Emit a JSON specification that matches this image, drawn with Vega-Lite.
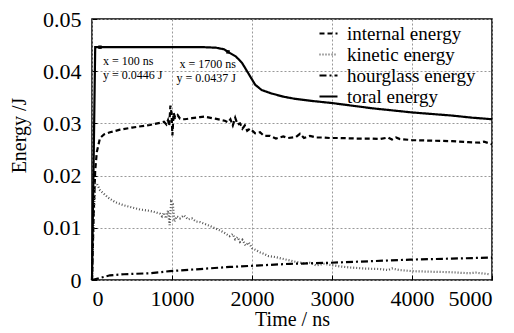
{
  "$schema": "https://vega.github.io/schema/vega-lite/v6.json",
  "width": 400,
  "height": 261,
  "autosize": {"type": "none"},
  "padding": {"left": 92, "top": 19, "right": 22, "bottom": 53},
  "background": "white",
  "config": {
    "font": "Liberation Serif",
    "view": {"stroke": "black", "strokeWidth": 1.5},
    "text": {"font": "Liberation Serif"},
    "axis": {
      "labelFont": "Liberation Serif",
      "titleFont": "Liberation Serif",
      "labelColor": "black",
      "titleColor": "black",
      "titleFontWeight": "normal",
      "domain": false,
      "tickColor": "black",
      "grid": true,
      "gridColor": "#999999",
      "gridDash": [2, 2],
      "gridWidth": 1,
      "labelFontSize": 22,
      "titleFontSize": 20
    },
    "legend": {
      "labelFont": "Liberation Serif",
      "labelFontSize": 19,
      "labelColor": "black"
    }
  },
  "datasets": {
    "energy": [
      {"t": 0, "e": 0, "s": "internal energy"},
      {"t": 20, "e": 0.012, "s": "internal energy"},
      {"t": 40, "e": 0.021, "s": "internal energy"},
      {"t": 60, "e": 0.0245, "s": "internal energy"},
      {"t": 100, "e": 0.0272, "s": "internal energy"},
      {"t": 150, "e": 0.0279, "s": "internal energy"},
      {"t": 225, "e": 0.0283, "s": "internal energy"},
      {"t": 350, "e": 0.0288, "s": "internal energy"},
      {"t": 500, "e": 0.0292, "s": "internal energy"},
      {"t": 725, "e": 0.0297, "s": "internal energy"},
      {"t": 850, "e": 0.0301, "s": "internal energy"},
      {"t": 900, "e": 0.0303, "s": "internal energy"},
      {"t": 930, "e": 0.0298, "s": "internal energy"},
      {"t": 950, "e": 0.0306, "s": "internal energy"},
      {"t": 965, "e": 0.0295, "s": "internal energy"},
      {"t": 980, "e": 0.0334, "s": "internal energy"},
      {"t": 995, "e": 0.0318, "s": "internal energy"},
      {"t": 1005, "e": 0.0277, "s": "internal energy"},
      {"t": 1020, "e": 0.032, "s": "internal energy"},
      {"t": 1040, "e": 0.0311, "s": "internal energy"},
      {"t": 1070, "e": 0.0316, "s": "internal energy"},
      {"t": 1100, "e": 0.0309, "s": "internal energy"},
      {"t": 1160, "e": 0.0308, "s": "internal energy"},
      {"t": 1250, "e": 0.031, "s": "internal energy"},
      {"t": 1350, "e": 0.0312, "s": "internal energy"},
      {"t": 1410, "e": 0.0313, "s": "internal energy"},
      {"t": 1500, "e": 0.031, "s": "internal energy"},
      {"t": 1540, "e": 0.0309, "s": "internal energy"},
      {"t": 1600, "e": 0.0307, "s": "internal energy"},
      {"t": 1660, "e": 0.0305, "s": "internal energy"},
      {"t": 1700, "e": 0.0302, "s": "internal energy"},
      {"t": 1730, "e": 0.0308, "s": "internal energy"},
      {"t": 1760, "e": 0.0296, "s": "internal energy"},
      {"t": 1790, "e": 0.0311, "s": "internal energy"},
      {"t": 1820, "e": 0.0298, "s": "internal energy"},
      {"t": 1850, "e": 0.03, "s": "internal energy"},
      {"t": 1880, "e": 0.029, "s": "internal energy"},
      {"t": 1910, "e": 0.0296, "s": "internal energy"},
      {"t": 1940, "e": 0.0286, "s": "internal energy"},
      {"t": 1975, "e": 0.029, "s": "internal energy"},
      {"t": 2040, "e": 0.0281, "s": "internal energy"},
      {"t": 2100, "e": 0.0283, "s": "internal energy"},
      {"t": 2150, "e": 0.0276, "s": "internal energy"},
      {"t": 2225, "e": 0.0276, "s": "internal energy"},
      {"t": 2300, "e": 0.0271, "s": "internal energy"},
      {"t": 2390, "e": 0.0275, "s": "internal energy"},
      {"t": 2450, "e": 0.0272, "s": "internal energy"},
      {"t": 2550, "e": 0.0274, "s": "internal energy"},
      {"t": 2600, "e": 0.028, "s": "internal energy"},
      {"t": 2650, "e": 0.0272, "s": "internal energy"},
      {"t": 2725, "e": 0.0276, "s": "internal energy"},
      {"t": 2800, "e": 0.0273, "s": "internal energy"},
      {"t": 2900, "e": 0.0273, "s": "internal energy"},
      {"t": 2975, "e": 0.0272, "s": "internal energy"},
      {"t": 3100, "e": 0.0272, "s": "internal energy"},
      {"t": 3300, "e": 0.0271, "s": "internal energy"},
      {"t": 3475, "e": 0.0271, "s": "internal energy"},
      {"t": 3600, "e": 0.027, "s": "internal energy"},
      {"t": 3700, "e": 0.0273, "s": "internal energy"},
      {"t": 3750, "e": 0.0269, "s": "internal energy"},
      {"t": 3800, "e": 0.0273, "s": "internal energy"},
      {"t": 3850, "e": 0.027, "s": "internal energy"},
      {"t": 4000, "e": 0.0268, "s": "internal energy"},
      {"t": 4225, "e": 0.0267, "s": "internal energy"},
      {"t": 4500, "e": 0.0266, "s": "internal energy"},
      {"t": 4700, "e": 0.0264, "s": "internal energy"},
      {"t": 4850, "e": 0.0263, "s": "internal energy"},
      {"t": 4900, "e": 0.0265, "s": "internal energy"},
      {"t": 5000, "e": 0.026, "s": "internal energy"},

      {"t": 0, "e": 0, "s": "kinetic energy"},
      {"t": 20, "e": 0.012, "s": "kinetic energy"},
      {"t": 40, "e": 0.0185, "s": "kinetic energy"},
      {"t": 60, "e": 0.0185, "s": "kinetic energy"},
      {"t": 100, "e": 0.0172, "s": "kinetic energy"},
      {"t": 200, "e": 0.0158, "s": "kinetic energy"},
      {"t": 290, "e": 0.0149, "s": "kinetic energy"},
      {"t": 400, "e": 0.0143, "s": "kinetic energy"},
      {"t": 500, "e": 0.0139, "s": "kinetic energy"},
      {"t": 600, "e": 0.0135, "s": "kinetic energy"},
      {"t": 700, "e": 0.0133, "s": "kinetic energy"},
      {"t": 790, "e": 0.013, "s": "kinetic energy"},
      {"t": 850, "e": 0.0127, "s": "kinetic energy"},
      {"t": 875, "e": 0.0122, "s": "kinetic energy"},
      {"t": 900, "e": 0.0129, "s": "kinetic energy"},
      {"t": 925, "e": 0.0118, "s": "kinetic energy"},
      {"t": 950, "e": 0.0133, "s": "kinetic energy"},
      {"t": 970, "e": 0.0105, "s": "kinetic energy"},
      {"t": 990, "e": 0.015, "s": "kinetic energy"},
      {"t": 1010, "e": 0.0146, "s": "kinetic energy"},
      {"t": 1030, "e": 0.0112, "s": "kinetic energy"},
      {"t": 1060, "e": 0.0122, "s": "kinetic energy"},
      {"t": 1100, "e": 0.0118, "s": "kinetic energy"},
      {"t": 1150, "e": 0.0124, "s": "kinetic energy"},
      {"t": 1200, "e": 0.0116, "s": "kinetic energy"},
      {"t": 1250, "e": 0.0118, "s": "kinetic energy"},
      {"t": 1300, "e": 0.0112, "s": "kinetic energy"},
      {"t": 1350, "e": 0.0111, "s": "kinetic energy"},
      {"t": 1400, "e": 0.0108, "s": "kinetic energy"},
      {"t": 1450, "e": 0.0105, "s": "kinetic energy"},
      {"t": 1540, "e": 0.0099, "s": "kinetic energy"},
      {"t": 1600, "e": 0.0095, "s": "kinetic energy"},
      {"t": 1660, "e": 0.009, "s": "kinetic energy"},
      {"t": 1720, "e": 0.0084, "s": "kinetic energy"},
      {"t": 1760, "e": 0.0088, "s": "kinetic energy"},
      {"t": 1790, "e": 0.0078, "s": "kinetic energy"},
      {"t": 1820, "e": 0.0082, "s": "kinetic energy"},
      {"t": 1850, "e": 0.0073, "s": "kinetic energy"},
      {"t": 1880, "e": 0.0077, "s": "kinetic energy"},
      {"t": 1920, "e": 0.0066, "s": "kinetic energy"},
      {"t": 1960, "e": 0.0072, "s": "kinetic energy"},
      {"t": 2000, "e": 0.0061, "s": "kinetic energy"},
      {"t": 2040, "e": 0.0058, "s": "kinetic energy"},
      {"t": 2100, "e": 0.0053, "s": "kinetic energy"},
      {"t": 2150, "e": 0.005, "s": "kinetic energy"},
      {"t": 2200, "e": 0.0046, "s": "kinetic energy"},
      {"t": 2290, "e": 0.0044, "s": "kinetic energy"},
      {"t": 2400, "e": 0.004, "s": "kinetic energy"},
      {"t": 2540, "e": 0.0035, "s": "kinetic energy"},
      {"t": 2650, "e": 0.0032, "s": "kinetic energy"},
      {"t": 2725, "e": 0.0033, "s": "kinetic energy"},
      {"t": 2800, "e": 0.0028, "s": "kinetic energy"},
      {"t": 2900, "e": 0.0031, "s": "kinetic energy"},
      {"t": 2975, "e": 0.0029, "s": "kinetic energy"},
      {"t": 3100, "e": 0.0026, "s": "kinetic energy"},
      {"t": 3225, "e": 0.0024, "s": "kinetic energy"},
      {"t": 3400, "e": 0.0022, "s": "kinetic energy"},
      {"t": 3600, "e": 0.0021, "s": "kinetic energy"},
      {"t": 3700, "e": 0.0019, "s": "kinetic energy"},
      {"t": 3750, "e": 0.0022, "s": "kinetic energy"},
      {"t": 3850, "e": 0.0019, "s": "kinetic energy"},
      {"t": 4000, "e": 0.0017, "s": "kinetic energy"},
      {"t": 4200, "e": 0.0016, "s": "kinetic energy"},
      {"t": 4475, "e": 0.0015, "s": "kinetic energy"},
      {"t": 4700, "e": 0.0013, "s": "kinetic energy"},
      {"t": 4800, "e": 0.0014, "s": "kinetic energy"},
      {"t": 4975, "e": 0.0011, "s": "kinetic energy"},

      {"t": 0, "e": 0, "s": "hourglass energy"},
      {"t": 100, "e": 0.0004, "s": "hourglass energy"},
      {"t": 225, "e": 0.0009, "s": "hourglass energy"},
      {"t": 400, "e": 0.0011, "s": "hourglass energy"},
      {"t": 725, "e": 0.0013, "s": "hourglass energy"},
      {"t": 975, "e": 0.0017, "s": "hourglass energy"},
      {"t": 1350, "e": 0.0021, "s": "hourglass energy"},
      {"t": 1725, "e": 0.0025, "s": "hourglass energy"},
      {"t": 2100, "e": 0.0028, "s": "hourglass energy"},
      {"t": 2475, "e": 0.0031, "s": "hourglass energy"},
      {"t": 2975, "e": 0.0033, "s": "hourglass energy"},
      {"t": 3475, "e": 0.0036, "s": "hourglass energy"},
      {"t": 3975, "e": 0.0039, "s": "hourglass energy"},
      {"t": 4500, "e": 0.0041, "s": "hourglass energy"},
      {"t": 5000, "e": 0.0043, "s": "hourglass energy"},

      {"t": 0, "e": 0, "s": "toral energy"},
      {"t": 40, "e": 0.0446, "s": "toral energy"},
      {"t": 100, "e": 0.0446, "s": "toral energy"},
      {"t": 500, "e": 0.0446, "s": "toral energy"},
      {"t": 1000, "e": 0.0446, "s": "toral energy"},
      {"t": 1400, "e": 0.0446, "s": "toral energy"},
      {"t": 1550, "e": 0.0445, "s": "toral energy"},
      {"t": 1650, "e": 0.0442, "s": "toral energy"},
      {"t": 1700, "e": 0.0437, "s": "toral energy"},
      {"t": 1800, "e": 0.0428, "s": "toral energy"},
      {"t": 1875, "e": 0.0416, "s": "toral energy"},
      {"t": 1950, "e": 0.0397, "s": "toral energy"},
      {"t": 2040, "e": 0.0374, "s": "toral energy"},
      {"t": 2120, "e": 0.0364, "s": "toral energy"},
      {"t": 2250, "e": 0.0357, "s": "toral energy"},
      {"t": 2400, "e": 0.0351, "s": "toral energy"},
      {"t": 2540, "e": 0.0347, "s": "toral energy"},
      {"t": 2750, "e": 0.0343, "s": "toral energy"},
      {"t": 3000, "e": 0.0339, "s": "toral energy"},
      {"t": 3250, "e": 0.0334, "s": "toral energy"},
      {"t": 3500, "e": 0.0329, "s": "toral energy"},
      {"t": 3750, "e": 0.0325, "s": "toral energy"},
      {"t": 4000, "e": 0.0321, "s": "toral energy"},
      {"t": 4250, "e": 0.0318, "s": "toral energy"},
      {"t": 4500, "e": 0.0315, "s": "toral energy"},
      {"t": 4750, "e": 0.0311, "s": "toral energy"},
      {"t": 5000, "e": 0.0308, "s": "toral energy"}
    ],
    "notes": [
      {"t": 100, "e": 0.0446, "label": ["x = 100 ns", "y = 0.0446 J"], "side": "left"},
      {"t": 1700, "e": 0.0437, "label": ["x = 1700 ns", "y = 0.0437 J"], "side": "right"}
    ]
  },
  "layer": [
    {
      "data": {"name": "energy"},
      "mark": {"type": "line", "strokeWidth": 2.2},
      "encoding": {
        "x": {
          "field": "t", "type": "quantitative",
          "scale": {"domain": [0, 5000], "nice": false},
          "axis": {"title": "Time / ns", "values": [0, 1000, 2000, 3000, 4000, 5000], "format": "d", "tickSize": -5, "labelPadding": 13, "titlePadding": 0, "labelFont": "Liberation Serif", "titleFont": "Liberation Serif", "titleFontWeight": "normal"}
        },
        "y": {
          "field": "e", "type": "quantitative",
          "scale": {"domain": [0, 0.05], "nice": false},
          "axis": {"title": "Energy /J", "values": [0, 0.01, 0.02, 0.03, 0.04, 0.05], "format": ".2~f", "tickSize": -5, "labelPadding": 16, "titleX": -67, "titleY": 116, "titleBaseline": "alphabetic", "labelFont": "Liberation Serif", "titleFont": "Liberation Serif", "titleFontWeight": "normal"}
        },
        "strokeDash": {
          "field": "s", "type": "nominal",
          "scale": {
            "domain": ["internal energy", "kinetic energy", "hourglass energy", "toral energy"],
            "range": [[5, 3], [1, 2], [7, 3, 2, 3], [1, 0]]
          },
          "legend": {"title": null, "orient": "none", "legendX": 226, "legendY": 4, "symbolType": "stroke", "symbolSize": 324, "symbolStrokeWidth": 2.2, "rowPadding": 0, "labelOffset": 8}
        },
        "color": {
          "field": "s", "type": "nominal",
          "scale": {
            "domain": ["internal energy", "kinetic energy", "hourglass energy", "toral energy"],
            "range": ["black", "#555555", "black", "black"]
          },
          "legend": {"title": null, "orient": "none", "legendX": 226, "legendY": 4, "symbolType": "stroke", "symbolSize": 324, "symbolStrokeWidth": 2.2, "rowPadding": 0, "labelOffset": 8}
        }
      }
    },
    {
      "data": {"name": "notes"},
      "mark": {"type": "square", "size": 12, "color": "black", "opacity": 1},
      "encoding": {
        "x": {"field": "t", "type": "quantitative"},
        "y": {"field": "e", "type": "quantitative"}
      }
    },
    {
      "data": {"name": "notes"},
      "transform": [{"filter": "datum.side == 'left'"}],
      "mark": {"type": "text", "align": "left", "baseline": "top", "dx": 3, "dy": 9, "fontSize": 12, "lineHeight": 14, "font": "Liberation Serif", "color": "black"},
      "encoding": {
        "x": {"field": "t", "type": "quantitative"},
        "y": {"field": "e", "type": "quantitative"},
        "text": {"field": "label"}
      }
    },
    {
      "data": {"name": "notes"},
      "transform": [{"filter": "datum.side == 'right'"}],
      "mark": {"type": "text", "align": "right", "baseline": "top", "dx": 8, "dy": 7, "fontSize": 12, "lineHeight": 14, "font": "Liberation Serif", "color": "black"},
      "encoding": {
        "x": {"field": "t", "type": "quantitative"},
        "y": {"field": "e", "type": "quantitative"},
        "text": {"field": "label"}
      }
    }
  ]
}
